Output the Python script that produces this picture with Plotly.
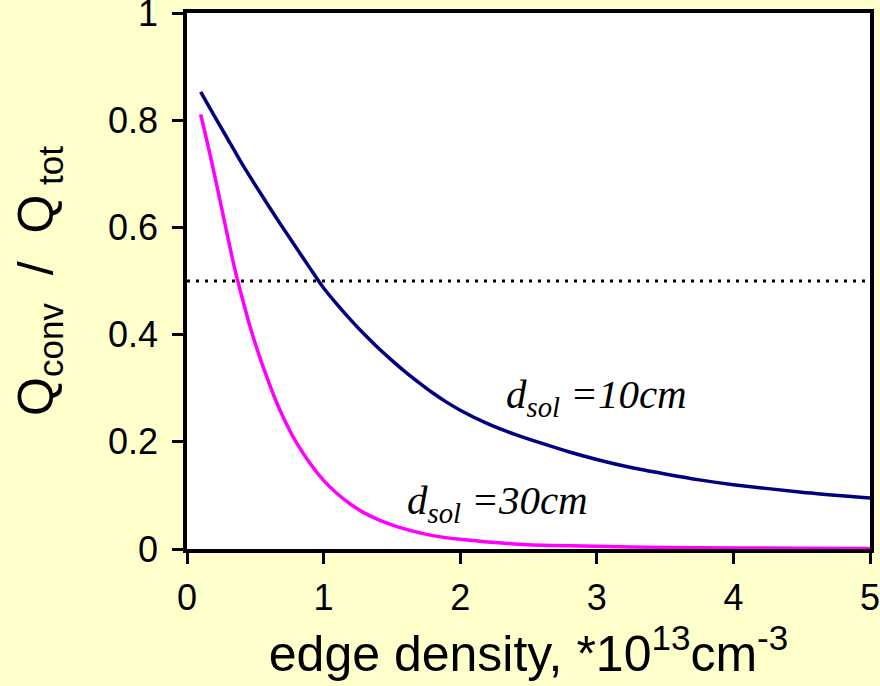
import plotly.graph_objects as go

# Navy curve: d_sol = 10 cm
x_10 = [0.1, 0.2, 0.3, 0.4, 0.5, 0.6, 0.7, 0.8, 0.9, 0.95, 1.0, 1.1, 1.2, 1.3, 1.4,
        1.5, 1.6, 1.7, 1.8, 1.9, 2.0, 2.2, 2.4, 2.6, 2.8, 3.0, 3.25, 3.5, 3.75, 4.0,
        4.5, 5.0]
y_10 = [0.853, 0.808, 0.764, 0.720, 0.679, 0.639, 0.600, 0.562, 0.524, 0.505, 0.487,
        0.456, 0.427, 0.400, 0.375, 0.352, 0.330, 0.310, 0.291, 0.274, 0.259, 0.234,
        0.214, 0.197, 0.181, 0.167, 0.152, 0.140, 0.129, 0.120, 0.106, 0.095]

# Magenta curve: d_sol = 30 cm
x_30 = [0.1, 0.15, 0.2, 0.25, 0.3, 0.35, 0.4, 0.45, 0.5, 0.55, 0.6, 0.65, 0.7, 0.75,
        0.8, 0.9, 1.0, 1.1, 1.2, 1.3, 1.4, 1.5, 1.6, 1.8, 2.0, 2.25, 2.5, 3.0, 3.5,
        4.0, 4.5, 5.0]
y_30 = [0.811, 0.757, 0.700, 0.640, 0.580, 0.522, 0.472, 0.425, 0.383, 0.345, 0.310,
        0.277, 0.248, 0.222, 0.199, 0.160, 0.128, 0.103, 0.083, 0.067, 0.055, 0.045,
        0.037, 0.025, 0.018, 0.012, 0.008, 0.005, 0.003, 0.002, 0.0015, 0.001]

# Reference line at 0.5
x_ref = [0, 5]
y_ref = [0.5, 0.5]

x_ticks = [0, 1, 2, 3, 4, 5]
y_ticks = [0, 0.2, 0.4, 0.6, 0.8, 1]
y_tick_text = ["0", "0.2", "0.4", "0.6", "0.8", "1"]

label_10 = "<i>d<sub>sol</sub> =10cm</i>"
label_30 = "<i>d<sub>sol</sub> =30cm</i>"

SANS = "Liberation Sans, Arial, sans-serif"
SERIF = "Liberation Serif, Times New Roman, serif"

fig = go.Figure()
fig.add_trace(go.Scatter(x=x_ref, y=y_ref, mode="lines",
                         line=dict(color="black", width=3, dash="3px,6px"),
                         showlegend=False, hoverinfo="skip"))
fig.add_trace(go.Scatter(x=x_10, y=y_10, mode="lines", line_shape="spline",
                         line=dict(color="#000080", width=3.5, smoothing=0.6),
                         showlegend=False))
fig.add_trace(go.Scatter(x=x_30, y=y_30, mode="lines", line_shape="spline",
                         line=dict(color="#FF00FF", width=3.5, smoothing=0.6),
                         showlegend=False))

fig.add_annotation(x=3.0, y=0.284, text=label_10, showarrow=False,
                   font=dict(family=SERIF, size=41, color="black"))
fig.add_annotation(x=2.27, y=0.085, text=label_30, showarrow=False,
                   font=dict(family=SERIF, size=41, color="black"))

axis_common = dict(showline=True, linecolor="black", linewidth=3.5, mirror=True,
                   ticks="outside", ticklen=11, tickwidth=3, tickcolor="black",
                   showgrid=False, zeroline=False, ticklabeloverflow="allow",
                   tickfont=dict(family=SANS, size=36, color="black"))

fig.update_xaxes(range=[0, 5], tickvals=x_ticks, ticktext=[str(v) for v in x_ticks],
                 ticklabelstandoff=3,
                 title=dict(text="edge density, *10<sup>13</sup>cm<sup>-3</sup>",
                            font=dict(family=SANS, size=50, color="black"), standoff=10),
                 **axis_common)
fig.update_yaxes(range=[0, 1], tickvals=y_ticks, ticktext=y_tick_text,
                 ticklabelstandoff=7,
                 title=dict(text="Q<sub>conv</sub>  /  Q<sub> tot</sub>",
                            font=dict(family=SANS, size=50, color="black"), standoff=40),
                 **axis_common)

fig.update_layout(width=880, height=686,
                  margin=dict(l=187, r=10, t=13, b=137, autoexpand=False),
                  paper_bgcolor="#FFFFCC", plot_bgcolor="white",
                  showlegend=False)

fig.write_html("out.html")
